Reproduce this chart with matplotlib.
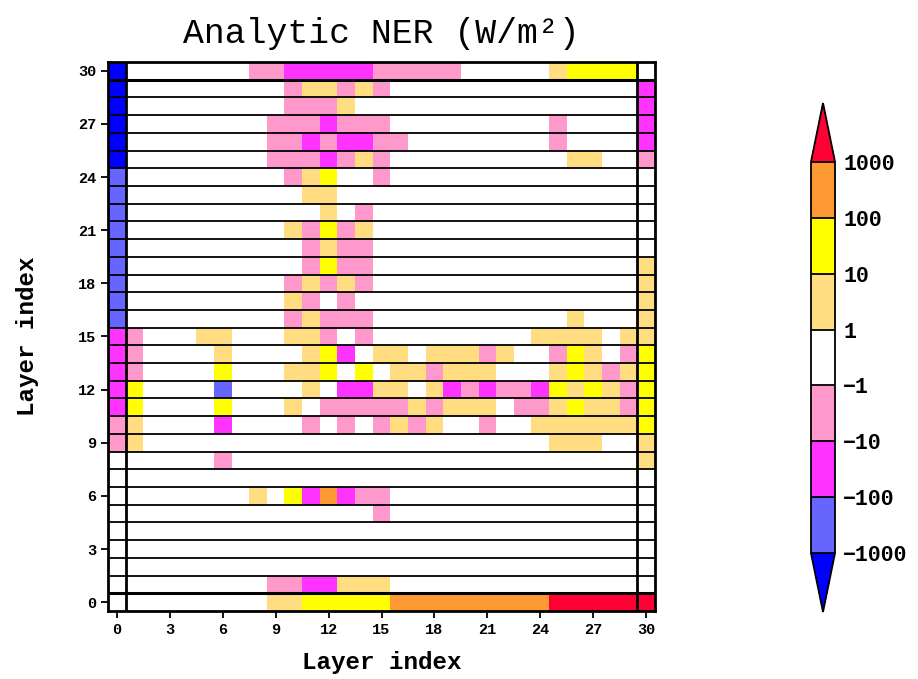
import matplotlib
matplotlib.use("Agg")
import matplotlib.pyplot as plt
import numpy as np
from matplotlib.colors import ListedColormap, BoundaryNorm

# bin levels of the colour scale
levels = [-1000, -100, -10, -1, 1, 10, 100, 1000]
level_labels = ["\u22121000", "\u2212100", "\u221210", "\u22121", "1", "10", "100", "1000"]
colors = ["#6666ff", "#ff33ff", "#ff99cc", "#ffffff", "#ffdd80", "#ffff00", "#ff9933"]
color_under = "#0000ff"
color_over = "#ff0033"

# representative value of each bin (values are only readable to the bin)
code_val = {"B": -3000, "b": -300, "M": -30, "p": -3, ".": 0,
            "o": 3, "y": 30, "O": 300, "R": 3000}

# one string per layer (row), index 0..30, column = layer index 0..30
rows = {
    30: "B.......ppMMMMMppppp.....oyyyy.",
    29: "B.........poopop..............M",
    28: "B.........pppo................M",
    27: "B........pppMppp.........p....M",
    26: "B........ppMpMMpp........p....M",
    25: "B........pppMpop..........oo..p",
    24: "b.........poy..p...............",
    23: "b..........oo..................",
    22: "b...........o.p................",
    21: "b.........opypo................",
    20: "b..........popp................",
    19: "b..........pypp...............o",
    18: "b.........popop...............o",
    17: "b.........op.p................o",
    16: "b.........poppp...........o...o",
    15: "Mp...oo...oop.p.........oooo.oo",
    14: "Mp....o....oyM.oo.ooopo..pyo.py",
    13: "Mp....y...ooy.y.oopooo...oyopoy",
    12: "My....b....o.MMoo.oMpMppMyoyopy",
    11: "My....y...o.pppppopooo.ppoyoopy",
    10: "po....M....p.p.popo..p..ooooooy",
    9:  "po.......................ooo..o",
    8:  "......p.......................o",
    7:  "...............................",
    6:  "........o.yMOMpp...............",
    5:  "...............p...............",
    4:  "...............................",
    3:  "...............................",
    2:  "...............................",
    1:  ".........ppMMooo...............",
    0:  ".........ooyyyyyOOOOOOOOORRRRRR",
}

n = 31
ner = np.array([[code_val[c] for c in rows[j]] for j in range(n)], dtype=float)
ticks = np.arange(0, 31, 3)

cmap = ListedColormap(colors)
cmap.set_under(color_under)
cmap.set_over(color_over)
norm = BoundaryNorm(levels, ncolors=len(colors))

font = "Liberation Mono"
fig = plt.figure(figsize=(9.18, 6.79), dpi=100)
ax = fig.add_axes([108 / 918, 1 - 611 / 679, 547 / 918, 549 / 679])

edges = np.arange(-0.5, n, 1.0)
ax.pcolormesh(edges, edges, ner, cmap=cmap, norm=norm)

# row separators and the boxes round layer 0 / layer 30
for j in range(n - 1):
    lw = 2.2 if j in (0, 29) else 1.3
    ax.axhline(j + 0.5, color="black", lw=lw)
ax.axvline(0.5, color="black", lw=2.0)
ax.axvline(29.5, color="black", lw=2.0)

ax.set_xlim(-0.5, 30.5)
ax.set_ylim(-0.5, 30.5)
ax.set_xticks(ticks)
ax.set_yticks(ticks)
ax.tick_params(direction="out", length=5, width=1.3, labelsize=11)
for lab in ax.get_xticklabels() + ax.get_yticklabels():
    lab.set_fontfamily(font)
    lab.set_fontweight("bold")
for s in ax.spines.values():
    s.set_linewidth(2.0)

ax.set_title("Analytic NER (W/m\u00b2)", fontsize=25, family=font, pad=14)
ax.set_xlabel("Layer index", fontsize=17.5, family=font, fontweight="bold", labelpad=10)
ax.set_ylabel("Layer index", fontsize=17.5, family=font, fontweight="bold", labelpad=28)

cax = fig.add_axes([811 / 918, 1 - 612 / 679, 24 / 918, 509 / 679])
sm = matplotlib.cm.ScalarMappable(norm=norm, cmap=cmap)
cb = fig.colorbar(sm, cax=cax, extend="both", extendfrac=0.15,
                  ticks=levels, drawedges=True)
cb.ax.set_yticklabels(level_labels)
cb.ax.tick_params(length=0, pad=6, labelsize=15.5)
for lab in cb.ax.get_yticklabels():
    lab.set_fontfamily(font)
    lab.set_fontweight("bold")
cb.outline.set_linewidth(1.3)
cb.dividers.set_linewidth(1.3)

fig.savefig("out.png", dpi=100)
